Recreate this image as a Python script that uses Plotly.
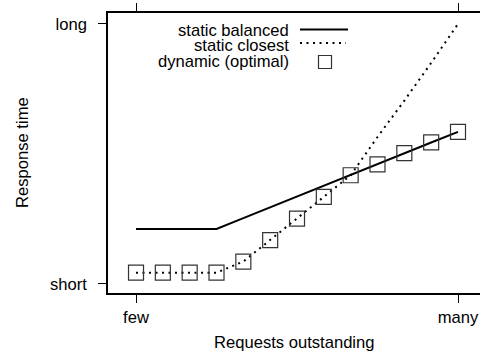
import plotly.graph_objects as go

# data
x_vals = list(range(13))
static_balanced = [0.2115, 0.2115, 0.2115, 0.2115, 0.253, 0.295, 0.336, 0.378, 0.419, 0.461, 0.502, 0.544, 0.585]
static_closest = [0.043, 0.043, 0.043, 0.043, 0.086, 0.168, 0.251, 0.335, 0.418, 0.565, 0.705, 0.85, 1.0]
dynamic_optimal = [0.043, 0.043, 0.043, 0.043, 0.086, 0.168, 0.251, 0.335, 0.418, 0.46, 0.503, 0.544, 0.585]
x_tickvals = [0, 12]
x_ticktext = ["few", "many"]
y_tickvals = [0, 1]
y_ticktext = ["short", "long"]
legend_names = ["static balanced", "static closest", "dynamic (optimal)"]

FONT = "Liberation Sans, Arial, Helvetica, sans-serif"
FS = 16.6

W, H = 480, 353
L, R, T, B = 108, 0, 13, 60
PW, PH = W - L - R, H - T - B

def px(X):
    return (X - L) / PW

def py(Y):
    return (H - B - Y) / PH

fig = go.Figure()
fig.add_trace(go.Scatter(x=x_vals, y=static_balanced, mode="lines",
                         line=dict(color="black", width=2), showlegend=False, name=legend_names[0]))
fig.add_trace(go.Scatter(x=x_vals, y=static_closest, mode="lines",
                         line=dict(color="black", width=2, dash="2px,4.5px"), showlegend=False, name=legend_names[1]))
fig.add_trace(go.Scatter(x=x_vals, y=dynamic_optimal, mode="markers",
                         marker=dict(symbol="square-open", size=15, color="#333", line=dict(width=1.2, color="#333")),
                         showlegend=False, name=legend_names[2]))

axis_common = dict(showgrid=False, zeroline=False, showline=True, linecolor="black", linewidth=1.5,
                   ticks="outside", ticklen=8, tickwidth=1.2, tickcolor="black",
                   tickfont=dict(family=FONT, size=FS, color="black"))

fig.update_xaxes(range=[-1.044, 12.82], tickvals=x_tickvals, ticktext=x_ticktext, mirror="ticks",
                 ticklabelstandoff=0, **axis_common)
fig.update_yaxes(range=[-0.035, 1.042], tickvals=y_tickvals, ticktext=y_ticktext, mirror=False,
                 ticklabelstandoff=8, **axis_common)

annotations = [
    dict(text="Requests outstanding", x=px(294), y=py(342.5), xref="paper", yref="paper",
         showarrow=False, xanchor="center", yanchor="middle", font=dict(family=FONT, size=FS, color="black")),
    dict(text="Response time", x=px(22), y=py(153), xref="paper", yref="paper", textangle=-90,
         showarrow=False, xanchor="center", yanchor="middle", font=dict(family=FONT, size=FS, color="black")),
]
rows_y = [30, 45.5, 61.5]
for name, ry in zip(legend_names, rows_y):
    annotations.append(dict(text=name, x=px(291), y=py(ry), xref="paper", yref="paper", showarrow=False,
                            xanchor="right", yanchor="middle", font=dict(family=FONT, size=FS, color="black")))

shapes = [
    dict(type="line", xref="paper", yref="paper", x0=px(300), x1=px(348), y0=py(29.5), y1=py(29.5),
         line=dict(color="black", width=2)),
    dict(type="line", xref="paper", yref="paper", x0=px(300), x1=px(346), y0=py(43), y1=py(43),
         line=dict(color="black", width=2, dash="2px,4.5px")),
    dict(type="rect", xref="paper", yref="paper", x0=px(318.5), x1=px(331.5), y0=py(55.5), y1=py(68.5),
         line=dict(color="#333", width=1.2)),
]

fig.update_layout(width=W, height=H, margin=dict(l=L, r=R, t=T, b=B, autoexpand=False),
                  paper_bgcolor="white", plot_bgcolor="white",
                  annotations=annotations, shapes=shapes, showlegend=False,
                  font=dict(family=FONT, size=FS, color="black"))

fig.write_html("out.html", config={"displayModeBar": False},
               post_script="document.body.style.margin='0';document.body.style.overflow='hidden';")
